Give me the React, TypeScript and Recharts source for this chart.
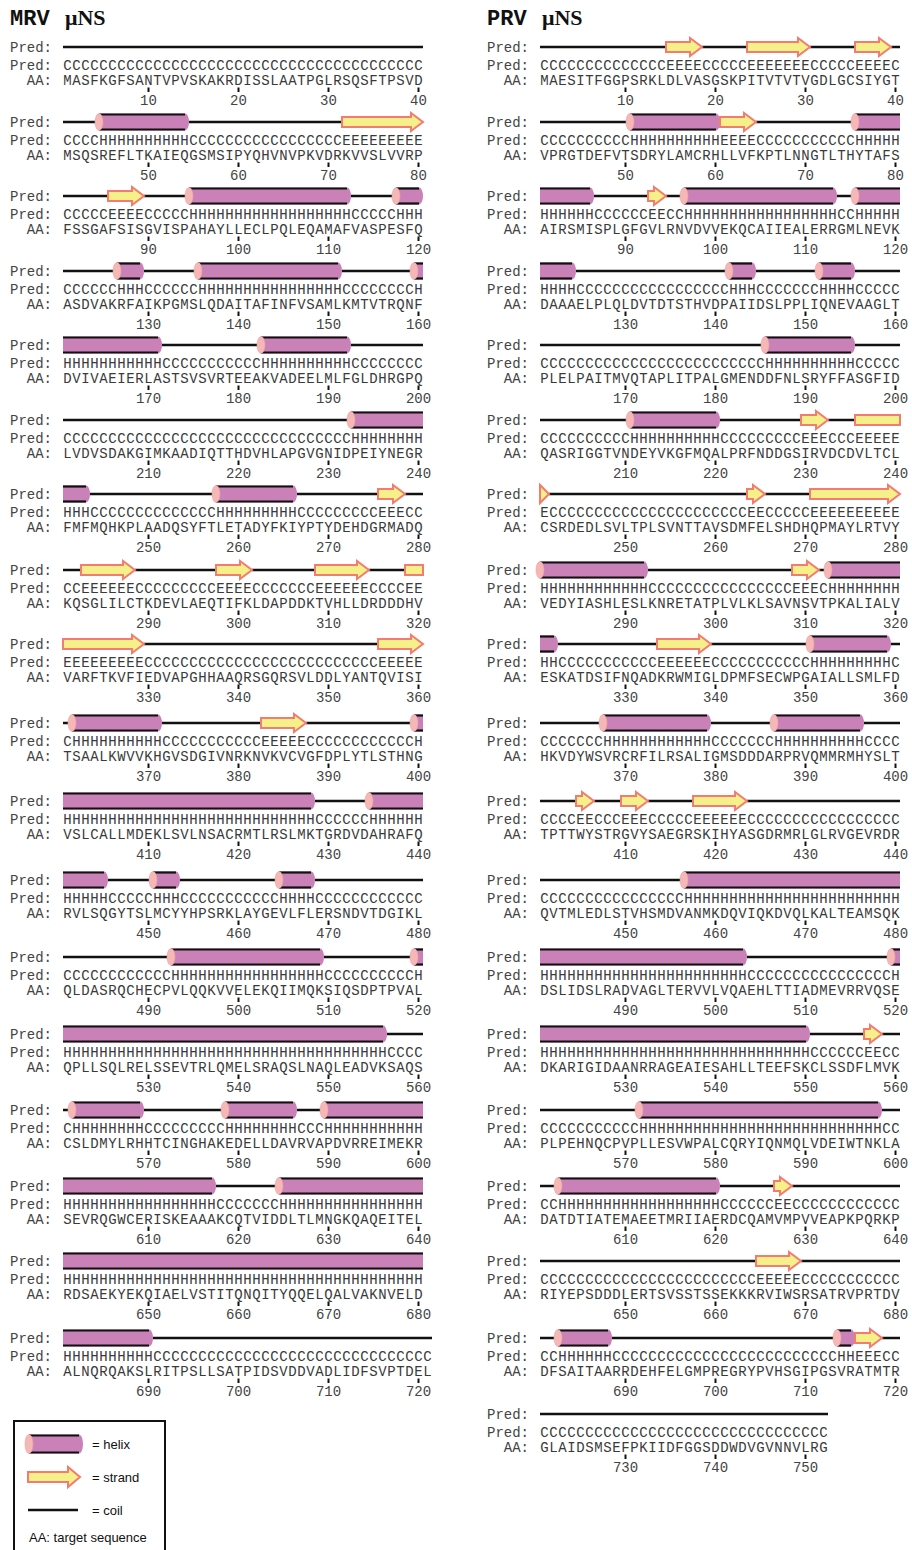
import { Bar, ComposedChart, XAxis, YAxis } from "recharts";

// PSIPRED rows, 40 residues per row (spaces only group the text by ten)
const MRV_PRED = [
  "CCCCCCCCCC CCCCCCCCCC CCCCCCCCCC CCCCCCCCCC",
  "CCCCHHHHHH HHHHCCCCCC CCCCCCCCCC CEEEEEEEEE",
  "CCCCCEEEEC CCCCHHHHHH HHHHHHHHHH HHCCCCCHHH",
  "CCCCCCHHHC CCCCCHHHHH HHHHHHHHHH HCCCCCCCCH",
  "HHHHHHHHHH HCCCCCCCCC CCHHHHHHHH HHCCCCCCCC",
  "CCCCCCCCCC CCCCCCCCCC CCCCCCCCCC CCHHHHHHHH",
  "HHHCCCCCCC CCCCCCCHHH HHHHHHCCCC CCCCCEEECC",
  "CCEEEEEECC CCCCCCCEEE ECCCCCCCEE EEEECCCCEE",
  "EEEEEEEEEC CCCCCCCCCC CCCCCCCCCC CCCCCEEEEE",
  "CHHHHHHHHH HCCCCCCCCC CCEEEEECCC CCCCCCCCCH",
  "HHHHHHHHHH HHHHHHHHHH HHHHHHHHCC CCCCHHHHHH",
  "HHHHHCCCCC HHHCCCCCCC CCCCHHHHCC CCCCCCCCCC",
  "CCCCCCCCCC CCHHHHHHHH HHHHHHHHHC CCCCCCCCCH",
  "HHHHHHHHHH HHHHHHHHHH HHHHHHHHHH HHHHHHCCCC",
  "CHHHHHHHHC CCCCCCCCHH HHHHHHCCCH HHHHHHHHHH",
  "HHHHHHHHHH HHHHHHHCCC CCCCHHHHHH HHHHHHHHHH",
  "HHHHHHHHHH HHHHHHHHHH HHHHHHHHHH HHHHHHHHHH",
  "HHHHHHHHHH CCCCCCCCCC CCCCCCCCCC CCCCCCCCCC C",
].map((s) => s.replace(/ /g, ""));

const MRV_AA = [
  "MASFKGFSAN TVPVSKAKRD ISSLAATPGL RSQSFTPSVD",
  "MSQSREFLTK AIEQGSMSIP YQHVNVPKVD RKVVSLVVRP",
  "FSSGAFSISG VISPAHAYLL ECLPQLEQAM AFVASPESFQ",
  "ASDVAKRFAI KPGMSLQDAI TAFINFVSAM LKMTVTRQNF",
  "DVIVAEIERL ASTSVSVRTE EAKVADEELM LFGLDHRGPQ",
  "LVDVSDAKGI MKAADIQTTH DVHLAPGVGN IDPEIYNEGR",
  "FMFMQHKPLA ADQSYFTLET ADYFKIYPTY DEHDGRMADQ",
  "KQSGLILCTK DEVLAEQTIF KLDAPDDKTV HLLDRDDDHV",
  "VARFTKVFIE DVAPGHHAAQ RSGQRSVLDD LYANTQVISI",
  "TSAALKWVVK HGVSDGIVNR KNVKVCVGFD PLYTLSTHNG",
  "VSLCALLMDE KLSVLNSACR MTLRSLMKTG RDVDAHRAFQ",
  "RVLSQGYTSL MCYYHPSRKL AYGEVLFLER SNDVTDGIKL",
  "QLDASRQCHE CPVLQQKVVE LEKQIIMQKS IQSDPTPVAL",
  "QPLLSQLREL SSEVTRLQME LSRAQSLNAQ LEADVKSAQS",
  "CSLDMYLRHH TCINGHAKED ELLDAVRVAP DVRREIMEKR",
  "SEVRQGWCER ISKEAAAKCQ TVIDDLTLMN GKQAQEITEL",
  "RDSAEKYEKQ IAELVSTITQ NQITYQQELQ ALVAKNVELD",
  "ALNQRQAKSL RITPSLLSAT PIDSVDDVAD LIDFSVPTDE L",
].map((s) => s.replace(/ /g, ""));

const PRV_PRED = [
  "CCCCCCCCCC CCCCEEEECC CCCEEEEEEE CCCCCEEEEC",
  "CCCCCCCCCC HHHHHHHHHH EEEECCCCCC CCCCCHHHHH",
  "HHHHHHCCCC CCEECCHHHH HHHHHHHHHH HHHCCHHHHH",
  "HHHHCCCCCC CCCCCCCCCC CHHHCCCCCC CHHHHCCCCC",
  "CCCCCCCCCC CCCCCCCCCC CCCCCHHHHH HHHHHCCCCC",
  "CCCCCCCCCC HHHHHHHHHH CCCCCCCCCE EECCCEEEEE",
  "ECCCCCCCCC CCCCCCCCCC CCCEECCCCC EEEEEEEEEE",
  "HHHHHHHHHH HHCCCCCCCC CCCCCCCCEE ECHHHHHHHH",
  "HHCCCCCCCC CCCEEEEEEC CCCCCCCCCC HHHHHHHHHC",
  "CCCCCCCHHH HHHHHHHHHC CCCCCCHHHH HHHHHHCCCC",
  "CCCCEECCCE EECCCCCEEE EEECCCCCCC CCCCCCCCCC",
  "CCCCCCCCCC CCCCCCHHHH HHHHHHHHHH HHHHHHHHHH",
  "HHHHHHHHHH HHHHHHHHHH HHHCCCCCCC CCCCCCCCCH",
  "HHHHHHHHHH HHHHHHHHHH HHHHHHHHHH CCCCCCEECC",
  "CCCCCCCCCC CHHHHHHHHH HHHHHHHHHH HHHHHHHHCC",
  "CCHHHHHHHH HHHHHHHHHH CCCCCCEECC CCCCCCCCCC",
  "CCCCCCCCCC CCCCCCCCCC CCCCEEEEEC CCCCCCCCCC",
  "CCHHHHHHCC CCCCCCCCCC CCCCCCCCCC CCCHHEEECC",
  "CCCCCCCCCC CCCCCCCCCC CCCCCCCCCC CC",
].map((s) => s.replace(/ /g, ""));

const PRV_AA = [
  "MAESITFGGP SRKLDLVASG SKPITVTVTV GDLGCSIYGT",
  "VPRGTDEFVT SDRYLAMCRH LLVFKPTLNN GTLTHYTAFS",
  "AIRSMISPLG FGVLRNVDVV EKQCAIIEAL ERRGMLNEVK",
  "DAAAELPLQL DVTDTSTHVD PAIIDSLPPL IQNEVAAGLT",
  "PLELPAITMV QTAPLITPAL GMENDDFNLS RYFFASGFID",
  "QASRIGGTVN DEYVKGFMQA LPRFNDDGSI RVDCDVLTCL",
  "CSRDEDLSVL TPLSVNTTAV SDMFELSHDH QPMAYLRTVY",
  "VEDYIASHLE SLKNRETATP LVLKLSAVNS VTPKALIALV",
  "ESKATDSIFN QADKRWMIGL DPMFSECWPG AIALLSMLFD",
  "HKVDYWSVRC RFILRSALIG MSDDDARPRV QMMRMHYSLT",
  "TPTTWYSTRG VYSAEGRSKI HYASGDRMRL GLRVGEVRDR",
  "QVTMLEDLST VHSMDVANMK DQVIQKDVQL KALTEAMSQK",
  "DSLIDSLRAD VAGLTERVVL VQAEHLTTIA DMEVRRVQSE",
  "DKARIGIDAA NRRAGEAIES AHLLTEEFSK CLSSDFLMVK",
  "PLPEHNQCPV PLLESVWPAL CQRYIQNMQL VDEIWTNKLA",
  "DATDTIATEM AEETMRIIAE RDCQAMVMPV VEAPKPQRKP",
  "RIYEPSDDDL ERTSVSSTSS EKKKRVIWSR SATRVPRTDV",
  "DFSAITAARR DEHFELGMPR EGRYPVHSGI PGSVRATMTR",
  "GLAIDSMSEF PKIIDFGGSD DWDVGVNNVL RG",
].map((s) => s.replace(/ /g, ""));

// vertical centre of the graphic line of each row, page pixels
const ROW_Y = [46.7, 121.7, 196, 270.5, 344.5, 419.5, 493.5, 569.5, 644, 723, 800.5, 879.5, 957, 1034, 1110, 1186, 1260.5, 1337.7, 1413.7];

const STEP = 9;
const HELIX = "#c981b7";
const CAP = "#f5b8b6";
const STRAND = "#f6f08a";
const STRAND_EDGE = "#f37b6f";
const INK = "#111";
const TEXT = "#3a3a3a";

type Seg = { lane: number; span: [number, number]; kind: string; capStart: boolean; capEnd: boolean };

function segments(rows: string[], i: number): Seg[] {
  const s = rows[i];
  const prev = i > 0 ? rows[i - 1][rows[i - 1].length - 1] : "";
  const next = i < rows.length - 1 ? rows[i + 1][0] : "";
  const out: Seg[] = [];
  let start = 0;
  for (let k = 1; k <= s.length; k++) {
    if (k === s.length || s[k] !== s[start]) {
      const kind = s[start];
      out.push({
        lane: 0.5,
        span: [start + 0.5, k + 0.5],
        kind,
        capStart: !(start === 0 && prev === kind),
        capEnd: !(k === s.length && next === kind),
      });
      start = k;
    }
  }
  // coil first so helices and strands sit on top of the line
  return [...out.filter((d) => d.kind === "C"), ...out.filter((d) => d.kind !== "C")];
}

function Helix({ x0, x1, cy, h, capStart, capEnd }: any) {
  const rx = 4;
  const bodyEnd = capEnd ? x1 - rx : x1;
  const d = capEnd
    ? `M${x0},${cy - h} L${bodyEnd},${cy - h} A${rx},${h} 0 0 1 ${bodyEnd},${cy + h} L${x0},${cy + h} Z`
    : `M${x0},${cy - h} L${x1},${cy - h} L${x1},${cy + h} L${x0},${cy + h} Z`;
  return (
    <g>
      <path d={d} fill={HELIX} />
      <line x1={x0} x2={bodyEnd} y1={cy - h + 1} y2={cy - h + 1} stroke={INK} strokeWidth={2.2} />
      <line x1={x0} x2={bodyEnd} y1={cy + h - 1} y2={cy + h - 1} stroke={INK} strokeWidth={2.2} />
      {capStart && <ellipse cx={x0} cy={cy} rx={rx} ry={h} fill={CAP} stroke="#e9a3a3" strokeWidth={0.6} />}
    </g>
  );
}

function Strand({ x0, x1, cy, bh, hh, capEnd }: any) {
  const head = Math.min(12, x1 - x0);
  const d = capEnd
    ? `M${x0},${cy - bh} L${x1 - head},${cy - bh} L${x1 - head},${cy - hh} L${x1},${cy} L${x1 - head},${cy + hh} L${x1 - head},${cy + bh} L${x0},${cy + bh} Z`
    : `M${x0},${cy - bh} L${x1},${cy - bh} L${x1},${cy + bh} L${x0},${cy + bh} Z`;
  return <path d={d} fill={STRAND} stroke={STRAND_EDGE} strokeWidth={2} strokeLinejoin="miter" />;
}

function SecShape(props: any) {
  const { x, y, width, height, payload } = props;
  const cy = y + height / 2;
  const x0 = x;
  const x1 = x + width;
  if (payload.kind === "H") return <Helix x0={x0} x1={x1} cy={cy} h={8.5} capStart={payload.capStart} capEnd={payload.capEnd} />;
  if (payload.kind === "E") return <Strand x0={x0} x1={x1} cy={cy} bh={5} hh={9} capEnd={payload.capEnd} />;
  return <line x1={x0} x2={x1} y1={cy} y2={cy} stroke={INK} strokeWidth={2.5} />;
}

// one axis tick = one residue: prediction letter, amino acid, and every tenth a number
function ResidueTick({ x, y, payload, pred, aa, base }: any) {
  const v = payload.value as number;
  const labelX = x - STEP / 2 - 11;
  const common = { dominantBaseline: "central" as const, fontSize: 14 };
  return (
    <g>
      {v === 1 && (
        <text x={labelX} y={y + 7} textAnchor="end" fill="#444" {...common}>Pred:</text>
      )}
      {v === 1 && (
        <text x={labelX} y={y + 21.5} textAnchor="end" fill="#444" {...common}>AA:</text>
      )}
      <text x={x} y={y + 7} textAnchor="middle" fill={TEXT} {...common}>{pred[v - 1]}</text>
      <text x={x} y={y + 21.5} textAnchor="middle" fill={TEXT} {...common}>{aa[v - 1]}</text>
      {v % 10 === 0 && <line x1={x} x2={x} y1={y + 28.5} y2={y + 33} stroke={INK} strokeWidth={2} />}
      {v % 10 === 0 && (
        <text x={x} y={y + 41.5} textAnchor="middle" fill="#444" {...common}>{base + v}</text>
      )}
    </g>
  );
}

function SeqRow({ preds, aas, i, plotLeft, labelWidth }: any) {
  const pred: string = preds[i];
  const aa: string = aas[i];
  const n = aa.length;
  const slots = Math.max(40, n);
  const residues = Array.from({ length: n }, (_, k) => k + 1);
  const data = segments(preds, i);
  return (
    <div style={{ position: "absolute", left: plotLeft - labelWidth, top: ROW_Y[i] - 12 }}>
      <ComposedChart
        layout="vertical"
        width={labelWidth + STEP * slots + 26}
        height={78}
        data={data}
        margin={{ top: 0, right: 26, bottom: 4, left: 0 }}
      >
        <YAxis
          type="number"
          dataKey="lane"
          domain={[0, 1]}
          ticks={[0.5]}
          tickFormatter={() => "Pred:"}
          width={labelWidth}
          tickLine={false}
          axisLine={false}
          tickSize={0}
          tickMargin={11}
          tick={{ fill: "#444", fontSize: 14 }}
        />
        <XAxis
          type="number"
          domain={[0.5, slots + 0.5]}
          ticks={residues}
          interval={0}
          height={50}
          tickSize={0}
          tickMargin={0}
          tickLine={false}
          axisLine={false}
          tick={(p: any) => <ResidueTick {...p} pred={pred} aa={aa} base={i * 40} />}
        />
        <Bar dataKey="span" barSize={24} shape={SecShape} isAnimationActive={false} />
      </ComposedChart>
    </div>
  );
}

function Legend() {
  const font = { fontFamily: "'Liberation Sans', Arial, sans-serif", fontSize: 13, fill: "#111" };
  return (
    <svg width={200} height={150} style={{ position: "absolute", left: 0, top: 1400 }}>
      <rect x={14} y={21} width={151} height={140} fill="none" stroke={INK} strokeWidth={2} />
      <Helix x0={29} x1={83} cy={44} h={9.5} capStart capEnd />
      <text x={92} y={44} dominantBaseline="central" {...font}>= helix</text>
      <Strand x0={28} x1={80} cy={77} bh={5} hh={10} capEnd />
      <text x={92} y={77} dominantBaseline="central" {...font}>= strand</text>
      <line x1={28} x2={78} y1={110} y2={110} stroke={INK} strokeWidth={2.5} />
      <text x={92} y={110} dominantBaseline="central" {...font}>= coil</text>
      <text x={29} y={137} dominantBaseline="central" {...font}>AA: target sequence</text>
    </svg>
  );
}

function Title({ x, name }: { x: number; name: string }) {
  return (
    <svg width={140} height={34} style={{ position: "absolute", left: x, top: 0 }}>
      <text x={0} y={24.5} fontFamily="'Liberation Mono', monospace" fontWeight="bold" fontSize={22} fill={INK}>
        {name}
      </text>
      <text x={55} y={24.5} fontFamily="'Liberation Serif', serif" fontWeight="bold" fontSize={22} fill={INK}>
        μNS
      </text>
    </svg>
  );
}

export default function App() {
  return (
    <div
      style={{
        position: "absolute",
        left: 0,
        top: 0,
        width: 912,
        height: 1550,
        overflow: "hidden",
        background: "#fff",
        fontFamily: "'Liberation Mono', 'Courier New', monospace",
        fontSize: 14,
      }}
    >
      <Title x={10} name="MRV" />
      <Title x={487} name="PRV" />
      {MRV_PRED.map((_, i) => (
        <SeqRow key={`m${i}`} preds={MRV_PRED} aas={MRV_AA} i={i} plotLeft={63} labelWidth={63} />
      ))}
      {PRV_PRED.map((_, i) => (
        <SeqRow key={`p${i}`} preds={PRV_PRED} aas={PRV_AA} i={i} plotLeft={540} labelWidth={70} />
      ))}
      <Legend />
    </div>
  );
}
